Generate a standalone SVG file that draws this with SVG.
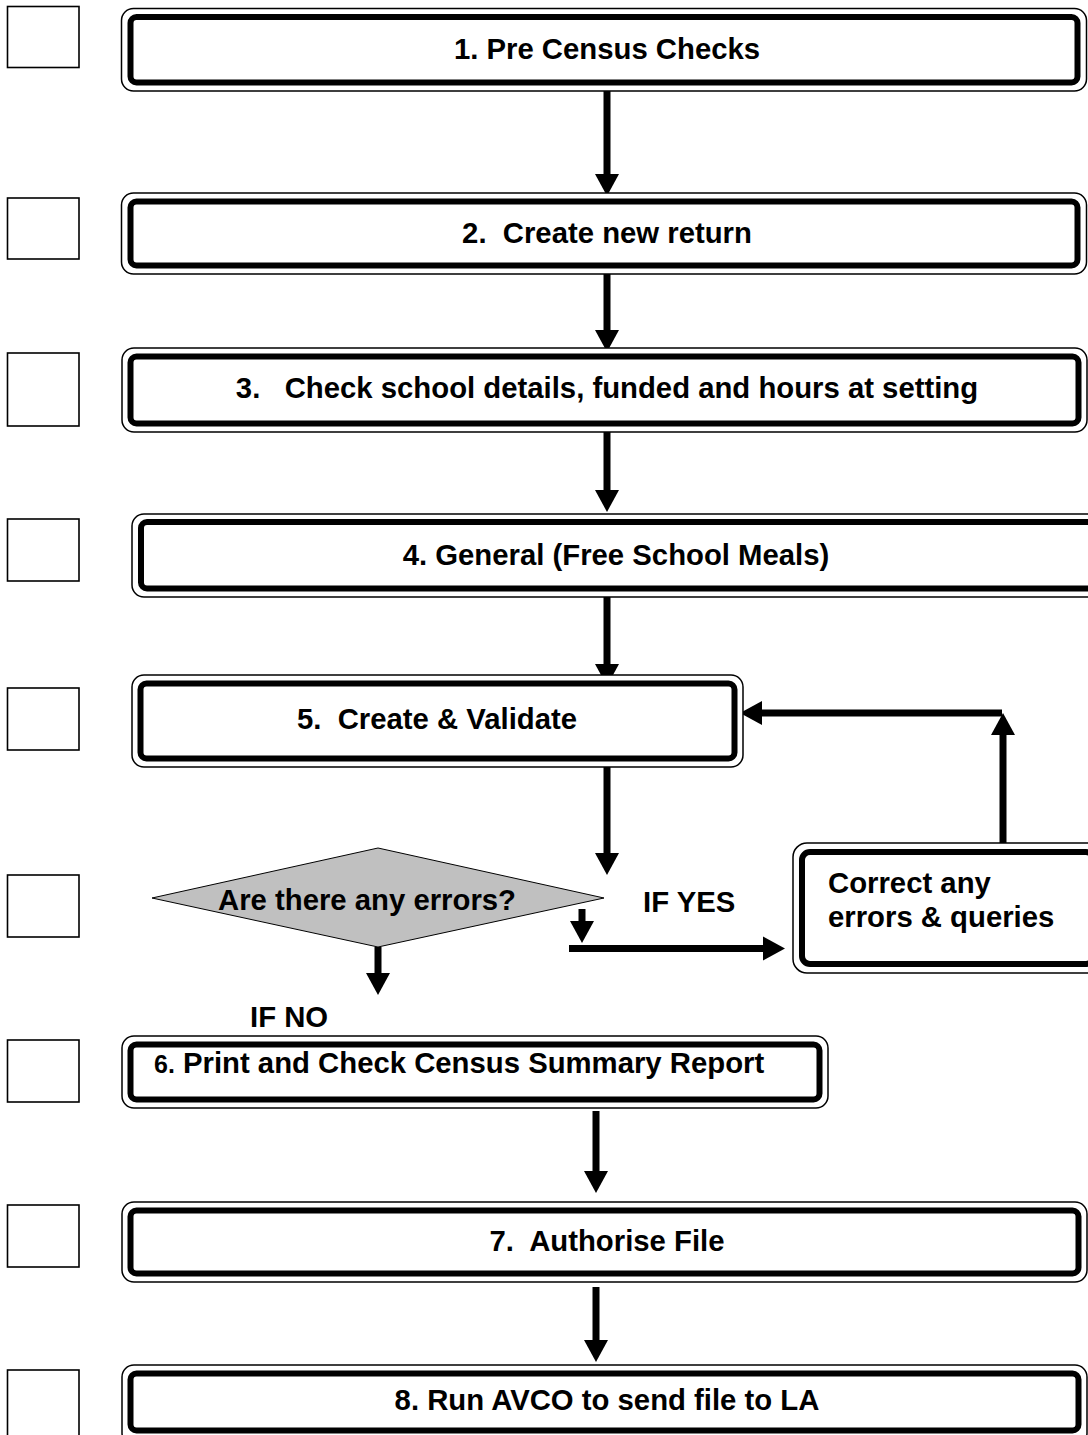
<svg xmlns="http://www.w3.org/2000/svg" width="1088" height="1435" viewBox="0 0 1088 1435">
<style>
.bg{fill:#ffffff}
.chk{fill:#ffffff;stroke:#000;stroke-width:1.6}
.outer{fill:#ffffff;stroke:#000;stroke-width:1.5}
.inner{fill:#ffffff;stroke:#000;stroke-width:6}
.t{font-family:"Liberation Sans",Arial,sans-serif;font-weight:bold;font-size:29.3px;fill:#000;white-space:pre}
.c{text-anchor:middle}
.dec{fill:#c0c0c0;stroke:#000;stroke-width:1}
.ln{stroke:#000;stroke-width:7;fill:none;marker-end:url(#ah)}
.pl{stroke:#000;stroke-width:7;fill:none}
</style>
<defs>
<marker id="ah" markerUnits="userSpaceOnUse" markerWidth="22" markerHeight="24" refX="0" refY="12" orient="auto" overflow="visible">
<path d="M0,0 L22,12 L0,24 Z" fill="#000"/>
</marker>
</defs>
<rect class="bg" x="0" y="0" width="1088" height="1435"/>

<g id="checkboxes">
<rect class="chk" x="7.5" y="6.5" width="71.5" height="61"/>
<rect class="chk" x="7.5" y="198" width="71.5" height="61"/>
<rect class="chk" x="7.5" y="353" width="71.5" height="73"/>
<rect class="chk" x="7.5" y="519" width="71.5" height="62"/>
<rect class="chk" x="7.5" y="688" width="71.5" height="62"/>
<rect class="chk" x="7.5" y="875" width="71.5" height="62"/>
<rect class="chk" x="7.5" y="1040" width="71.5" height="62"/>
<rect class="chk" x="7.5" y="1205" width="71.5" height="62"/>
<rect class="chk" x="7.5" y="1370" width="71.5" height="80"/>
</g>

<g id="connectors">
<line class="ln" x1="607" y1="91" x2="607" y2="174"/>
<line class="ln" x1="607" y1="274" x2="607" y2="330"/>
<line class="ln" x1="607" y1="432" x2="607" y2="490"/>
<line class="ln" x1="607" y1="597" x2="607" y2="664"/>
<line class="ln" x1="607" y1="767" x2="607" y2="853"/>
<line class="ln" x1="1003" y1="843" x2="1003" y2="735"/>
<line class="ln" x1="1002" y1="713" x2="762" y2="713"/>
<line class="ln" x1="582" y1="909" x2="582" y2="921"/>
<line class="ln" x1="569" y1="948.5" x2="763" y2="948.5"/>
<line class="ln" x1="378" y1="947" x2="378" y2="973"/>
<line class="ln" x1="596" y1="1111" x2="596" y2="1171"/>
<line class="ln" x1="596" y1="1287" x2="596" y2="1340"/>
</g>

<g id="n1">
<rect class="outer" x="121.5" y="8.5" width="965" height="82.5" rx="12"/>
<rect class="inner" x="130.5" y="17" width="947" height="65.5" rx="6"/>
<text class="t c" x="607" y="59">1. Pre Census Checks</text>
</g>
<g id="n2">
<rect class="outer" x="121.5" y="193" width="965" height="81" rx="12"/>
<rect class="inner" x="130.5" y="201.5" width="947" height="64" rx="6"/>
<text class="t c" x="607" y="243">2.  Create new return</text>
</g>
<g id="n3">
<rect class="outer" x="122" y="348" width="965" height="84" rx="12"/>
<rect class="inner" x="130.5" y="356.5" width="948" height="67" rx="6"/>
<text class="t c" x="607" y="398">3.   Check school details, funded and hours at setting</text>
</g>
<g id="n4">
<rect class="outer" x="132" y="514" width="970" height="83" rx="12"/>
<rect class="inner" x="141" y="522" width="952" height="66.5" rx="6"/>
<text class="t c" x="616" y="565">4. General (Free School Meals)</text>
</g>
<g id="n5">
<rect class="outer" x="132" y="675" width="611" height="92" rx="12"/>
<rect class="inner" x="140.5" y="683.5" width="594" height="75" rx="6"/>
<text class="t c" x="437" y="729">5.  Create &amp; Validate</text>
</g>
<g id="decision">
<polygon class="dec" points="152,898 378,848 604,898 378,947"/>
<text class="t" x="218" y="910">Are there any errors?</text>
</g>
<g id="labels">
<text class="t" x="643" y="912">IF YES</text>
<text class="t" x="250" y="1027">IF NO</text>
</g>
<g id="correct">
<rect class="outer" x="793" y="843" width="310" height="130" rx="14"/>
<rect class="inner" x="802" y="852" width="292" height="112" rx="8"/>
<text class="t" x="828" y="893">Correct any</text>
<text class="t" x="828" y="927">errors &amp; queries</text>
</g>
<g id="n6">
<rect class="outer" x="122" y="1036" width="706" height="72" rx="12"/>
<rect class="inner" x="130.5" y="1044.5" width="689" height="55" rx="6"/>
<text class="t" x="154" y="1073"><tspan font-size="25">6.</tspan> Print and Check Census Summary Report</text>
</g>
<g id="n7">
<rect class="outer" x="122" y="1202" width="965" height="80" rx="12"/>
<rect class="inner" x="130.5" y="1210.5" width="948" height="63" rx="6"/>
<text class="t c" x="607" y="1251">7.  Authorise File</text>
</g>
<g id="n8">
<rect class="outer" x="122" y="1365" width="965" height="80" rx="12"/>
<rect class="inner" x="130.5" y="1373.5" width="948" height="57" rx="6"/>
<text class="t c" x="607" y="1410">8. Run AVCO to send file to LA</text>
</g>
</svg>
